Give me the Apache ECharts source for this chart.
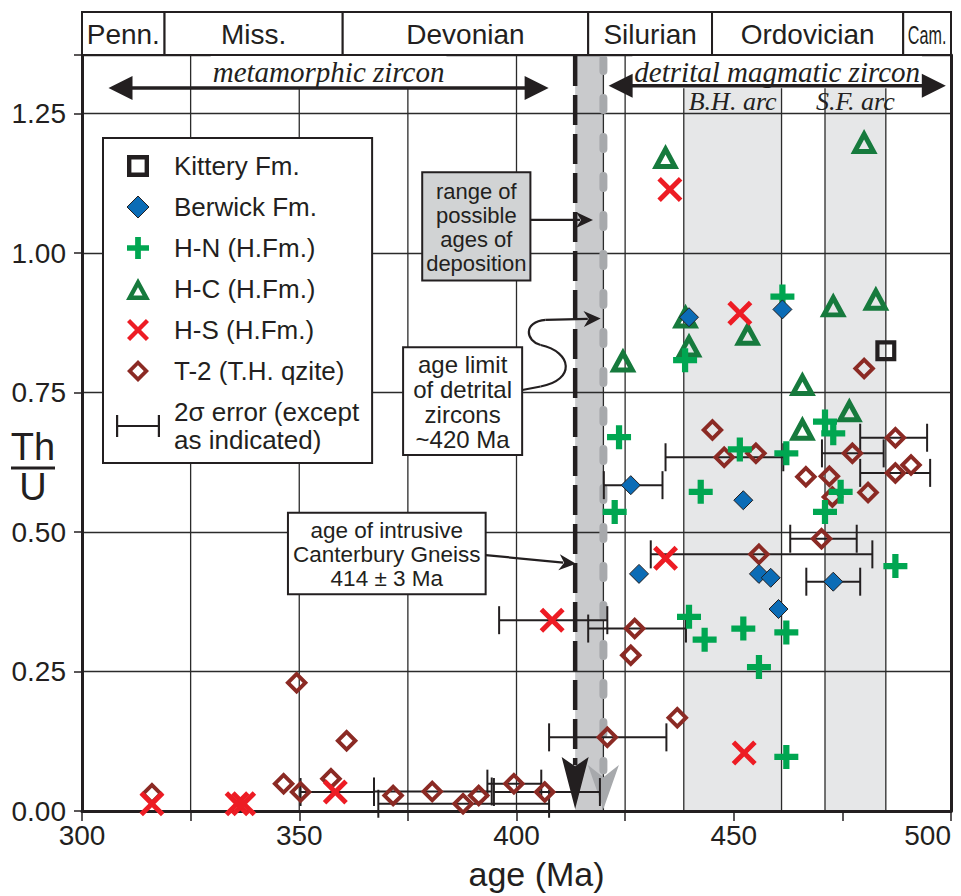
<!DOCTYPE html>
<html>
<head>
<meta charset="utf-8">
<script src="https://cdn.jsdelivr.net/npm/echarts@6/dist/echarts.min.js"></script>
<style>html,body{margin:0;padding:0;background:#fff}#c{width:961px;height:896px}</style>
</head>
<body>
<div id="c"></div>
<script>
// ---------------- data ----------------
const xTicks = [300, 350, 400, 450, 500];
const yTicks = [0, 0.25, 0.5, 0.75, 1.0, 1.25];

const periodNames = ['Penn.', 'Miss.', 'Devonian', 'Silurian', 'Ordovician', 'Cam.'];
const periodStart = [300, 319, 360, 416.5, 445, 489];
const periodEnd   = [319, 360, 416.5, 445, 489, 500];

const kitteryFm = [[485.0, 0.825]];
const berwickFm = [[439.7,0.885],[461.2,0.899],[426.3,0.584],[452.2,0.557],[428.2,0.425],[455.8,0.425],[458.5,0.418],[460.3,0.362],[472.9,0.411]];
const hnHFm = [[461.2,0.922],[438.8,0.808],[423.6,0.670],[422.6,0.536],[451.4,0.648],[462.1,0.641],[442.4,0.572],[471.0,0.698],[472.9,0.677],[474.6,0.572],[471.0,0.536],[487.2,0.439],[439.7,0.348],[443.3,0.307],[452.2,0.327],[462.1,0.320],[455.8,0.258],[462.1,0.097]];
const hcHFm = [[434.3,1.173],[480.0,1.200],[438.9,0.887],[439.7,0.835],[453.2,0.856],[424.5,0.808],[472.9,0.907],[482.7,0.919],[465.8,0.766],[476.6,0.719],[465.8,0.686]];
const hsHFm = [[435.3,1.114],[451.4,0.892],[434.3,0.453],[408.2,0.342],[452.4,0.104],[316.1,0.013],[335.7,0.013],[337.2,0.013],[358.3,0.034]];
const t2THqzite = [[480.0,0.793],[445.1,0.683],[447.8,0.634],[455.1,0.641],[487.2,0.669],[477.3,0.641],[466.6,0.599],[472.0,0.600],[487.2,0.606],[490.8,0.620],[472.7,0.563],[480.9,0.571],[470.2,0.488],[455.8,0.460],[427.2,0.327],[426.3,0.279],[437.0,0.167],[420.9,0.132],[316.1,0.031],[349.4,0.230],[360.9,0.126],[346.4,0.049],[350.3,0.034],[357.3,0.058],[371.6,0.028],[380.6,0.035],[387.7,0.013],[391.3,0.028],[399.4,0.049],[406.5,0.034]];

// 2-sigma error bars (age low, age high, Th/U)
const errLow  = [420.1, 466.7, 434.3, 479.1, 470.3, 479.1, 463.0, 430.9, 416.5, 407.5, 367.2, 368.2, 393.3, 394.8, 396.0, 350.3];
const errHigh = [433.6, 479.1, 461.4, 494.5, 484.5, 495.2, 478.3, 481.9, 439.0, 434.5, 394.3, 407.5, 405.7, 419.2, 420.9, 367.2];
const errY    = [0.584, 0.411, 0.634, 0.669, 0.641, 0.606, 0.488, 0.460, 0.327, 0.132, 0.035, 0.013, 0.049, 0.034, 0.342, 0.034];

// shaded age ranges
const bandNames = ['deposition', 'B.H. arc', 'S.F. arc'];
const bandStart = [413.5, 438.5, 471];
const bandEnd   = [420, 461, 485];
const bandTop   = [1.355, 1.30, 1.30];

// vertical reference lines (ages)
const gridAges = [325, 350, 375, 400, 420, 425];
// deposition limit lines (ages)
const limitAges = [413.5, 420];

// range arrows
const rangeLabels = ['metamorphic zircon', 'detrital magmatic zircon'];
const rangeFrom = [306.1, 421.2];
const rangeTo   = [407.4, 498.8];

// annotation texts
const noteTexts = ['range of\npossible\nages of\ndeposition', 'age limit\nof detrital\nzircons\n~420 Ma', 'age of intrusive\nCanterbury Gneiss\n414 \u00b1 3 Ma'];

// ---------------- layout (positions in data space) ----------------
const Y_MAX = 1.355;
const rangeArrowY = [1.296, 1.300];
const rangeLabelY = 1.325;
const arcLabelY = 1.271;
const noteBoxAge = [[378.3, 403.2], [373.9, 401.3], [347.4, 392.9]];
const noteBoxVal = [[0.951, 1.145], [0.638, 0.831], [0.3886, 0.5344]];
const noteFill = ['#d1d3d4', '#ffffff', '#ffffff'];
const noteFont = [22, 24, 22.5];
const noteLH = [24, 25, 24];
const straightArrows = [
  [[403.2, 1.0594], [417.6, 1.0594]],
  [[392.9, 0.4586], [413.7, 0.4430]]
];
// M p0 L p1 C p2 p3 p4 C p5 p6 p7 L p8
const curvedArrow = [[401.33,0.7545],[405.55,0.7608],[413.61,0.7724],[412.92,0.8226],[405.55,0.8352],[402.09,0.8424],[401.40,0.8765],[406.70,0.8801],[419.37,0.8827]];

// ---------------- styles ----------------
const INK = '#231f20';
const FONT = '"Liberation Sans", Arial, Helvetica, sans-serif';
const SERIF = '"Liberation Serif", "Times New Roman", serif';

const P_SQUARE = 'path://M0,0H100V100H0Z M20,20V80H80V20Z';
const P_DIAMOND = 'path://M50,0L100,50L50,100L0,50Z';
const P_DIAMOND_RING = 'path://M50,0L100,50L50,100L0,50Z M50,24L24,50L50,76L76,50Z';
const P_PLUS = 'path://M37,0H63V37H100V63H63V100H37V63H0V37H37Z';
const P_TRI_RING = 'path://M50,0L100,92L0,92Z M50,38.8L31.1,73.5L68.9,73.5Z';
const P_X = 'path://M0,14L14,0L50,36L86,0L100,14L64,50L100,86L86,100L50,64L14,100L0,86L36,50Z';
const P_ERR = 'path://M0,0H2.2V9.9H41.8V0H44V22H41.8V12.1H2.2V22H0Z';

const ERR_NAME = '2\u03c3 error (except\nas indicated)';

function arrowHead(tip, from, len, wid, notch) {
  const dx = tip[0] - from[0], dy = tip[1] - from[1];
  const d = Math.hypot(dx, dy) || 1;
  const ux = dx / d, uy = dy / d, px = -uy, py = ux;
  const bx = tip[0] - ux * len, by = tip[1] - uy * len;
  const nx = tip[0] - ux * len * (1 - notch), ny = tip[1] - uy * len * (1 - notch);
  return {
    pts: [[tip[0], tip[1]], [bx + px * wid / 2, by + py * wid / 2], [nx, ny], [bx - px * wid / 2, by - py * wid / 2]],
    shaftEnd: [tip[0] - ux * len * (1 - notch) - ux * 1, tip[1] - uy * len * (1 - notch) - uy * 1]
  };
}
function txt(text, x, y, o) {
  return { type: 'text', x: x, y: y, scaleX: o.scaleX || 1, z2: o.z2 || 10, style: Object.assign({
    text: text, x: 0, y: 0, fill: INK, fontFamily: FONT, fontSize: 22, fontWeight: 'normal',
    align: 'center', verticalAlign: 'middle', textAlign: 'center', textVerticalAlign: 'middle'
  }, o.style || {}) };
}

const chart = echarts.init(document.getElementById('c'), null, { renderer: 'svg' });

const option = {
  animation: false,
  backgroundColor: '#ffffff',
  textStyle: { fontFamily: FONT },
  title: {
    text: '{t|Th}\n{l|}\n{u|U}',
    left: 33, top: 428, padding: 0, textAlign: 'center',
    textStyle: {
      fontWeight: 'normal',
      rich: {
        t: { fontSize: 38, lineHeight: 38, fontFamily: FONT, fontWeight: 'normal', color: INK, align: 'center' },
        l: { width: 44, height: 3, lineHeight: 4, backgroundColor: INK, align: 'center' },
        u: { fontSize: 38, lineHeight: 34, fontFamily: FONT, fontWeight: 'normal', color: INK, align: 'center' }
      }
    }
  },
  legend: {
    left: 103, top: 138, orient: 'vertical', z: 20,
    padding: [14, 13, 9, 13], itemGap: 13, itemWidth: 44, itemHeight: 22,
    backgroundColor: '#ffffff', borderColor: INK, borderWidth: 2, borderRadius: 0,
    selectedMode: false, symbolKeepAspect: true,
    textStyle: { fontSize: 26, lineHeight: 28, color: INK, fontFamily: FONT, padding: [0, 0, 0, 9] },
    data: [
      { name: 'Kittery Fm.', icon: P_SQUARE, itemStyle: { color: INK, borderWidth: 0 } },
      { name: 'Berwick Fm.', icon: P_DIAMOND, itemStyle: { color: '#0b6cb6', borderColor: INK, borderWidth: 1 } },
      { name: 'H-N (H.Fm.)', icon: P_PLUS, itemStyle: { color: '#00a651', borderWidth: 0 } },
      { name: 'H-C (H.Fm.)', icon: P_TRI_RING, itemStyle: { color: '#167a3d', borderWidth: 0 } },
      { name: 'H-S (H.Fm.)', icon: P_X, itemStyle: { color: '#ed1c24', borderWidth: 0 } },
      { name: 'T-2 (T.H. qzite)', icon: P_DIAMOND_RING, itemStyle: { color: '#8b2a24', borderWidth: 0 } },
      { name: ERR_NAME, icon: P_ERR, itemStyle: { color: INK, borderWidth: 0 } }
    ]
  },
  grid: [
    { left: 82, right: 10, top: 55, bottom: 85, containLabel: false, outerBoundsMode: 'none' },
    { left: 82, right: 10, top: 12, height: 43, containLabel: false, outerBoundsMode: 'none' }
  ],
  xAxis: [
    {
      gridIndex: 0, type: 'value', min: 300, max: 500, interval: 25, z: 3,
      axisLine: { show: true, onZero: false, lineStyle: { color: INK, width: 3 } },
      axisTick: { show: true, length: 10, lineStyle: { color: INK, width: 1.5 } },
      axisLabel: { formatter: v => (xTicks.indexOf(v) >= 0 ? String(v) : ''), fontSize: 28, color: INK, fontFamily: FONT, margin: 10, alignMaxLabel: 'right' },
      splitLine: { show: false },
      name: 'age (Ma)', nameLocation: 'middle', nameGap: 46,
      nameTextStyle: { fontSize: 34, color: INK, fontFamily: FONT, padding: [0, 0, 0, 40] }
    },
    { gridIndex: 1, type: 'value', min: 300, max: 500, show: false }
  ],
  yAxis: [
    {
      gridIndex: 0, type: 'value', min: 0, max: Y_MAX, interval: 0.25, z: 3,
      axisLine: { show: true, onZero: false, lineStyle: { color: INK, width: 3 } },
      axisTick: { show: true, length: 8, lineStyle: { color: INK, width: 1.5 } },
      axisLabel: { formatter: v => (yTicks.some(t => Math.abs(t - v) < 1e-6) ? v.toFixed(2) : ''), fontSize: 28, color: INK, fontFamily: FONT, margin: 16 },
      splitLine: { show: true, lineStyle: { color: '#2b2b2b', width: 1.3 } }
    },
    {
      gridIndex: 0, type: 'value', position: 'right', min: 0, max: Y_MAX, z: 3,
      axisLine: { show: true, onZero: false, lineStyle: { color: INK, width: 3 } },
      axisTick: { show: false }, axisLabel: { show: false }, splitLine: { show: false }
    },
    { gridIndex: 1, type: 'value', min: 0, max: 1, show: false }
  ],
  series: [
    // shaded bands
    {
      type: 'custom', name: 'bands', z: 1, silent: true, xAxisIndex: 0, yAxisIndex: 0,
      data: bandStart.map((s, i) => [s, bandEnd[i], bandTop[i]]),
      encode: { x: [0, 1], y: 2 },
      renderItem: (params, api) => {
        const i = params.dataIndex;
        const a = api.coord([api.value(0), api.value(2)]);
        const b = api.coord([api.value(1), 0]);
        const ch = [{ type: 'rect', shape: { x: a[0], y: a[1], width: b[0] - a[0], height: b[1] - a[1] },
          style: { fill: i === 0 ? '#c9cacc' : '#e6e7e8' } }];
        if (i > 0) {
          ch.push({ type: 'line', shape: { x1: a[0], y1: a[1], x2: a[0], y2: b[1] }, style: { stroke: '#2b2b2b', lineWidth: 1.3 } });
          ch.push({ type: 'line', shape: { x1: b[0], y1: a[1], x2: b[0], y2: b[1] }, style: { stroke: '#2b2b2b', lineWidth: 1.3 } });
        }
        return { type: 'group', children: ch };
      }
    },
    // vertical reference lines
    {
      type: 'custom', name: 'vlines', z: 2, silent: true,
      data: gridAges.map(a => [a, 0]),
      renderItem: (params, api) => {
        const a = api.coord([api.value(0), Y_MAX]);
        const b = api.coord([api.value(0), 0]);
        return { type: 'line', shape: { x1: a[0], y1: a[1], x2: b[0], y2: b[1] }, style: { stroke: '#2b2b2b', lineWidth: 1.3 } };
      }
    },
    // deposition limit dashed lines with arrowheads
    {
      type: 'custom', name: 'limits', z: 6, silent: true,
      data: limitAges.map(a => [a, 0]),
      renderItem: (params, api) => {
        const i = params.dataIndex;
        const top = api.coord([api.value(0), Y_MAX]);
        const tip = api.coord([api.value(0), 0]);
        const black = i === 0;
        const len = black ? 52 : 44, wid = black ? 27 : 31, notch = black ? 0.18 : 0.28;
        const h = arrowHead([tip[0], tip[1] - 2], [tip[0], top[1]], len, wid, notch);
        return { type: 'group', children: [
          { type: 'line', shape: { x1: top[0], y1: top[1] + (black ? 1 : 4), x2: h.shaftEnd[0], y2: h.shaftEnd[1] - (black ? 0 : 6) },
            style: black ? { stroke: INK, lineWidth: 4.5, lineDash: [30, 9] }
                         : { stroke: '#a7a9ac', lineWidth: 8, lineDash: [12, 27], lineCap: 'round' } },
          { type: 'polygon', shape: { points: h.pts }, style: { fill: black ? INK : '#a7a9ac' } }
        ] };
      }
    },
    // error bars
    {
      type: 'custom', name: ERR_NAME, z: 9, silent: true,
      data: errLow.map((lo, i) => [lo, errHigh[i], errY[i]]),
      encode: { x: [0, 1], y: 2 },
      renderItem: (params, api) => {
        const p1 = api.coord([api.value(0), api.value(2)]);
        const p2 = api.coord([api.value(1), api.value(2)]);
        const h = 14, st = { stroke: INK, lineWidth: 2 };
        return { type: 'group', children: [
          { type: 'line', shape: { x1: p1[0], y1: p1[1], x2: p2[0], y2: p2[1] }, style: st },
          { type: 'line', shape: { x1: p1[0], y1: p1[1] - h, x2: p1[0], y2: p1[1] + h }, style: st },
          { type: 'line', shape: { x1: p2[0], y1: p2[1] - h, x2: p2[0], y2: p2[1] + h }, style: st }
        ] };
      }
    },
    // data points
    { type: 'scatter', name: 'T-2 (T.H. qzite)', data: t2THqzite, symbol: P_DIAMOND_RING, symbolSize: 23, symbolKeepAspect: true, itemStyle: { color: '#8b2a24', borderWidth: 0, opacity: 1 }, z: 10, silent: true },
    { type: 'scatter', name: 'H-C (H.Fm.)', data: hcHFm, symbol: P_TRI_RING, symbolSize: 27, symbolKeepAspect: true, itemStyle: { color: '#167a3d', borderWidth: 0, opacity: 1 }, z: 10, silent: true },
    { type: 'scatter', name: 'Kittery Fm.', data: kitteryFm, symbol: P_SQUARE, symbolSize: 21, symbolKeepAspect: true, itemStyle: { color: INK, borderWidth: 0, opacity: 1 }, z: 10, silent: true },
    { type: 'scatter', name: 'H-S (H.Fm.)', data: hsHFm, symbol: P_X, symbolSize: 25, symbolKeepAspect: true, itemStyle: { color: '#ed1c24', borderWidth: 0, opacity: 1 }, z: 10, silent: true },
    { type: 'scatter', name: 'H-N (H.Fm.)', data: hnHFm, symbol: P_PLUS, symbolSize: 24, symbolKeepAspect: true, itemStyle: { color: '#00a651', borderWidth: 0, opacity: 1 }, z: 10, silent: true },
    { type: 'scatter', name: 'Berwick Fm.', data: berwickFm, symbol: P_DIAMOND, symbolSize: 19, symbolKeepAspect: true, itemStyle: { color: '#0b6cb6', borderColor: INK, borderWidth: 1, opacity: 1 }, z: 11, silent: true },
    // annotation boxes
    {
      type: 'custom', name: 'notes', z: 12, silent: true,
      data: noteBoxAge.map((a, i) => [a[0], a[1], noteBoxVal[i][0], noteBoxVal[i][1]]),
      encode: { x: [0, 1], y: [2, 3] },
      renderItem: (params, api) => {
        const i = params.dataIndex;
        const a = api.coord([api.value(0), api.value(3)]);
        const b = api.coord([api.value(1), api.value(2)]);
        return { type: 'group', children: [
          { type: 'rect', shape: { x: a[0], y: a[1], width: b[0] - a[0], height: b[1] - a[1] }, style: { fill: noteFill[i], stroke: INK, lineWidth: 2 } },
          txt(noteTexts[i], (a[0] + b[0]) / 2, (a[1] + b[1]) / 2 + 1, { style: { fontSize: noteFont[i], lineHeight: noteLH[i] } })
        ] };
      }
    },
    // annotation arrows (straight)
    {
      type: 'custom', name: 'noteArrows', z: 12, silent: true,
      data: straightArrows.map(p => [p[0][0], p[0][1]]),
      renderItem: (params, api) => {
        const pts = straightArrows[params.dataIndex].map(p => api.coord(p));
        const h = arrowHead(pts[1], pts[0], 17, 16, 0.3);
        return { type: 'group', children: [
          { type: 'line', shape: { x1: pts[0][0], y1: pts[0][1], x2: h.shaftEnd[0], y2: h.shaftEnd[1] }, style: { stroke: INK, lineWidth: 2.2 } },
          { type: 'polygon', shape: { points: h.pts }, style: { fill: INK } }
        ] };
      }
    },
    // annotation arrow (curved)
    {
      type: 'custom', name: 'curvedArrow', z: 12, silent: true,
      data: [curvedArrow[0]],
      renderItem: (params, api) => {
        const p = curvedArrow.map(q => api.coord(q));
        const h = arrowHead(p[8], p[7], 17, 16, 0.3);
        const st = { stroke: INK, lineWidth: 2.2, fill: 'none' };
        return { type: 'group', children: [
          { type: 'line', shape: { x1: p[0][0], y1: p[0][1], x2: p[1][0], y2: p[1][1] }, style: st },
          { type: 'bezierCurve', shape: { x1: p[1][0], y1: p[1][1], cpx1: p[2][0], cpy1: p[2][1], cpx2: p[3][0], cpy2: p[3][1], x2: p[4][0], y2: p[4][1] }, style: st },
          { type: 'bezierCurve', shape: { x1: p[4][0], y1: p[4][1], cpx1: p[5][0], cpy1: p[5][1], cpx2: p[6][0], cpy2: p[6][1], x2: p[7][0], y2: p[7][1] }, style: st },
          { type: 'line', shape: { x1: p[7][0], y1: p[7][1], x2: h.shaftEnd[0], y2: h.shaftEnd[1] }, style: st },
          { type: 'polygon', shape: { points: h.pts }, style: { fill: INK } }
        ] };
      }
    },
    // range arrows with italic labels
    {
      type: 'custom', name: 'ranges', z: 12, silent: true,
      data: rangeFrom.map((f, i) => [f, rangeTo[i], rangeArrowY[i]]),
      encode: { x: [0, 1], y: 2 },
      renderItem: (params, api) => {
        const i = params.dataIndex;
        const a = api.coord([api.value(0), api.value(2)]);
        const b = api.coord([api.value(1), api.value(2)]);
        const c = api.coord([(api.value(0) + api.value(1)) / 2, rangeLabelY]);
        const L = 24, W = 24;
        const ha = arrowHead(a, b, L, W, 0), hb = arrowHead(b, a, L, W, 0);
        return { type: 'group', children: [
          txt(rangeLabels[i], c[0], c[1], { z2: 1, style: { fontFamily: SERIF, fontStyle: 'italic', fontSize: 29, lineHeight: 33, backgroundColor: '#ffffff', padding: [0, 2] } }),
          { type: 'line', z2: 5, shape: { x1: a[0] + L - 2, y1: a[1], x2: b[0] - L + 2, y2: b[1] }, style: { stroke: INK, lineWidth: 3.5 } },
          { type: 'polygon', z2: 5, shape: { points: ha.pts }, style: { fill: INK } },
          { type: 'polygon', z2: 5, shape: { points: hb.pts }, style: { fill: INK } }
        ] };
      }
    },
    // arc labels
    {
      type: 'custom', name: 'arcLabels', z: 12, silent: true,
      data: [[ (bandStart[1] + bandEnd[1]) / 2, arcLabelY ], [ (bandStart[2] + bandEnd[2]) / 2, arcLabelY ]],
      renderItem: (params, api) => {
        const c = api.coord([api.value(0), api.value(1)]);
        return txt(bandNames[params.dataIndex + 1], c[0], c[1], { style: { fontFamily: SERIF, fontStyle: 'italic', fontSize: 26 } });
      }
    },
    // geologic periods row
    {
      type: 'custom', name: 'periods', z: 13, silent: true, xAxisIndex: 1, yAxisIndex: 2,
      data: periodStart.map((s, i) => [s, periodEnd[i]]),
      encode: { x: [0, 1] },
      renderItem: (params, api) => {
        const i = params.dataIndex;
        const a = api.coord([api.value(0), 1]);
        const b = api.coord([api.value(1), 0]);
        const isCam = periodNames[i] === 'Cam.';
        return { type: 'group', children: [
          { type: 'rect', shape: { x: a[0], y: a[1], width: b[0] - a[0], height: b[1] - a[1] }, style: { fill: '#ffffff', stroke: INK, lineWidth: 2 } },
          txt(periodNames[i], (a[0] + b[0]) / 2, (a[1] + b[1]) / 2 + 1, { scaleX: isCam ? 0.62 : 1, style: { fontSize: isCam ? 26 : 28 } })
        ] };
      }
    }
  ]
};
chart.setOption(option);
</script>
</body>
</html>
